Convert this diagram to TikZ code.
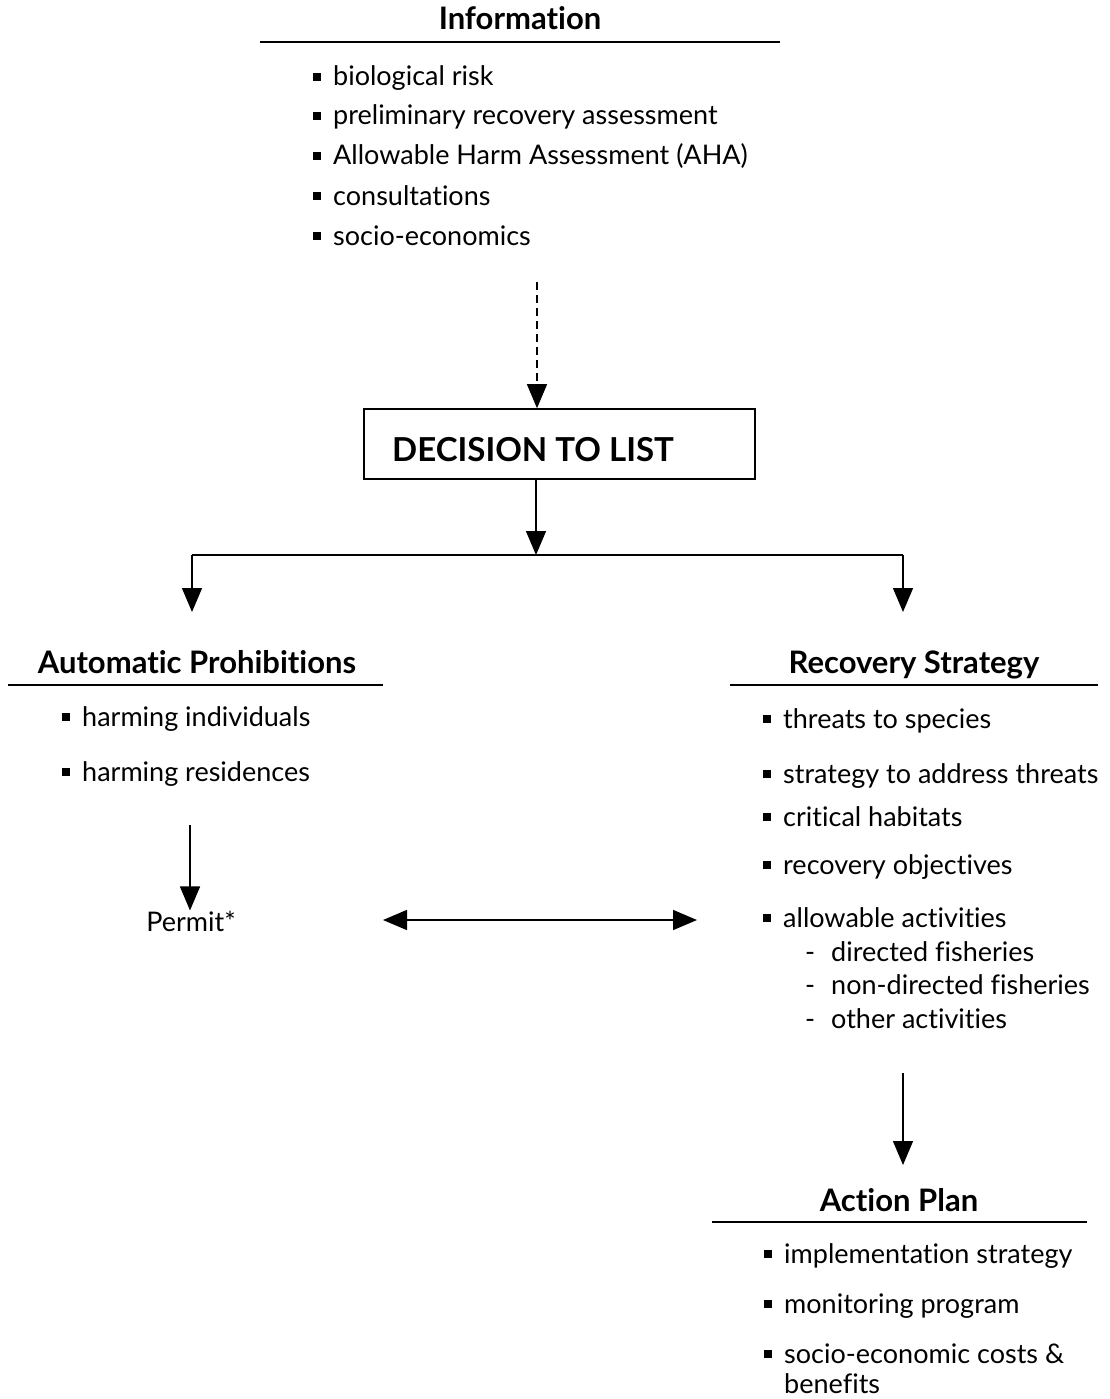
\documentclass[tikz,border=0pt]{standalone}
\usepackage{fontspec}
\setmainfont{Lato}[Ligatures=NoCommon]
\usetikzlibrary{arrows.meta,positioning}
\newcommand{\sqbul}{\llap{\rule[5pt]{8pt}{8pt}\hspace{12pt}}}
\newcommand{\subdash}{\llap{-\hspace{16pt}}}
\tikzstyle{head} = [anchor=base, font=\fontsize{31}{36}\selectfont\bfseries, inner sep=0pt]
\tikzstyle{item} = [anchor=base west, font=\fontsize{27}{32}\selectfont, inner sep=0pt]
\tikzstyle{box} = [rectangle, draw, line width=1.6pt, minimum width=391pt, minimum height=70pt]
\tikzstyle{rule} = [draw, line width=1.8pt]
\tikzstyle{line} = [draw, line width=1.4pt, ->]

\begin{document}
\begin{tikzpicture}[x=1pt, y=-1pt, >={Triangle[width=20pt,length=24pt]}]
    \useasboundingbox (0,0) rectangle (1109,1399);
    % information
    \node [head] (info) at (520,30) {Information};
    \path [rule] (260,42) -- (780,42);
    \node [item] (risk) at (333,86) {\sqbul biological risk};
    \node [item] (prelim) at (333,125) {\sqbul preliminary recovery assessment};
    \node [item] (aha) at (333,165) {\sqbul Allowable Harm Assessment (AHA)};
    \node [item] (consult) at (333,205) {\sqbul consultations};
    \node [item] (socio) at (333,245) {\sqbul socio-economics};
    % decision
    \node [box] (decision) at (559.5,444) {};
    \node [head, font=\fontsize{33}{38}\selectfont\bfseries] (decisiontext) at (533,461) {DECISION TO LIST};
    \coordinate (infoend) at (537,282);
    \coordinate (split) at (536,555);
    \coordinate (leftdrop) at (192,612);
    \coordinate (rightdrop) at (903,612);
    % automatic prohibitions
    \node [head] (auto) at (197,673) {Automatic Prohibitions};
    \path [rule] (8,685) -- (383,685);
    \node [item] (individuals) at (82,726) {\sqbul harming individuals};
    \node [item] (residences) at (82,781) {\sqbul harming residences};
    \coordinate (autoend) at (190,825);
    \node [item, anchor=base] (permit) at (191,931) {Permit*};
    % recovery strategy
    \node [head] (recovery) at (914,673) {Recovery Strategy};
    \path [rule] (730,685) -- (1098,685);
    \node [item] (threats) at (783,728) {\sqbul threats to species};
    \node [item] (address) at (783,783) {\sqbul strategy to address threats};
    \node [item] (habitats) at (783,826) {\sqbul critical habitats};
    \node [item] (objectives) at (783,874) {\sqbul recovery objectives};
    \node [item] (allowable) at (783,927) {\sqbul allowable activities};
    \node [item] (directed) at (831,961) {\subdash directed fisheries};
    \node [item] (nondirected) at (831,994) {\subdash non-directed fisheries};
    \node [item] (other) at (831,1028) {\subdash other activities};
    \coordinate (recend) at (903,1073);
    \coordinate (actiontop) at (903,1165);
    % action plan
    \node [head] (action) at (899,1211) {Action Plan};
    \path [rule] (712,1222) -- (1087,1222);
    \node [item] (implement) at (784,1263) {\sqbul implementation strategy};
    \node [item] (monitor) at (784,1313) {\sqbul monitoring program};
    \node [item] (costs) at (784,1363) {\sqbul socio-economic costs \&};
    \node [item] (benefits) at (784,1393) {benefits};
    % connectors
    \path [line, dash pattern=on 8pt off 5pt] (infoend) -- (infoend |- decision.north);
    \path [line] (split |- decision.south) -- (split);
    \path [draw, line width=1.4pt] (leftdrop |- split) -- (rightdrop |- split);
    \path [line] (leftdrop |- split) -- (leftdrop);
    \path [line] (rightdrop |- split) -- (rightdrop);
    \path [line] (autoend) -- (autoend |- permit.north);
    \coordinate (permitlink) at (383,920);
    \coordinate (alloclink) at (697,920);
    \path [line, <->] (permitlink) -- (alloclink);
    \path [line] (recend) -- (actiontop);
\end{tikzpicture}
\end{document}
